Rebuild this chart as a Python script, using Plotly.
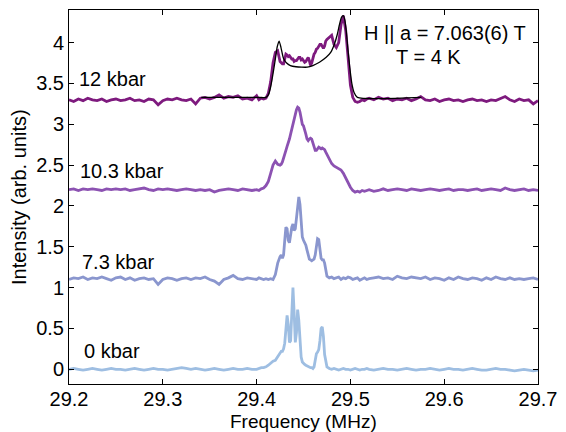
import plotly.graph_objects as go

# ---------------- frequency grid (MHz) ----------------
freq_a = [29.200, 29.205, 29.210, 29.215, 29.220, 29.225, 29.230, 29.235, 29.240, 29.245,
          29.250, 29.255, 29.260, 29.265, 29.270, 29.275, 29.280, 29.285, 29.290, 29.295,
          29.300, 29.305, 29.310, 29.315, 29.320, 29.325, 29.330, 29.335, 29.340, 29.345,
          29.350, 29.355, 29.360, 29.365, 29.370, 29.375, 29.380, 29.385, 29.390, 29.395]
freq_b = [29.4000, 29.4025, 29.4050, 29.4075, 29.4100, 29.4125, 29.4150, 29.4175, 29.4200, 29.4225]
freq_c = [29.42500, 29.42625, 29.42750, 29.42875, 29.43000, 29.43125, 29.43250, 29.43375, 29.43500, 29.43625,
          29.43750, 29.43875, 29.44000, 29.44125, 29.44250, 29.44375, 29.44500, 29.44625, 29.44750, 29.44875,
          29.45000, 29.45125, 29.45250, 29.45375, 29.45500, 29.45625, 29.45750, 29.45875, 29.46000, 29.46125,
          29.46250, 29.46375, 29.46500, 29.46625, 29.46750, 29.46875, 29.47000, 29.47125, 29.47250, 29.47375]
freq_d = [29.4750, 29.4775, 29.4800, 29.4825, 29.4850, 29.4875, 29.4900, 29.4925, 29.4950, 29.4975,
          29.5000, 29.5025, 29.5050, 29.5075, 29.5100, 29.5125, 29.5150, 29.5175]
freq_e = [29.520, 29.525, 29.530, 29.535, 29.540, 29.545, 29.550, 29.555, 29.560, 29.565,
          29.570, 29.575, 29.580, 29.585, 29.590, 29.595, 29.600, 29.605, 29.610, 29.615,
          29.620, 29.625, 29.630, 29.635, 29.640, 29.645, 29.650, 29.655, 29.660, 29.665,
          29.670, 29.675, 29.680, 29.685, 29.690, 29.695, 29.700]
freq = freq_a + freq_b + freq_c + freq_d + freq_e

# ---------------- spectra (relative to their baseline) ----------------
labels = ["0 kbar", "7.3 kbar", "10.3 kbar", "12 kbar"]
offsets = [0.0, 1.1, 2.2, 3.3]
colors = ["#9ebee2", "#8a96ce", "#8c52b2", "#7e1a7e"]

spec_0 = (
    [0.00, 0.01, 0.00, -0.01, 0.00, 0.01, 0.00, -0.01, 0.00, 0.01,
     0.00, 0.00, -0.01, 0.00, 0.01, 0.00, -0.01, 0.00, 0.01, 0.00,
     0.00, -0.01, 0.00, 0.01, 0.02, 0.01, 0.00, 0.01, 0.00, -0.01,
     0.00, 0.01, 0.00, -0.01, 0.00, 0.01, 0.00, 0.00, 0.01, 0.00]
    + [0.00, 0.01, 0.02, 0.02, 0.03, 0.05, 0.08, 0.10, 0.11, 0.15]
    + [0.20, 0.22, 0.22, 0.25, 0.32, 0.50, 0.66, 0.55, 0.33, 0.35,
       0.70, 1.00, 0.70, 0.33, 0.45, 0.73, 0.60, 0.30, 0.15, 0.09,
       0.07, 0.06, 0.05, 0.04, 0.03, 0.03, 0.02, 0.02, 0.01, 0.03,
       0.10, 0.19, 0.21, 0.24, 0.35, 0.50, 0.52, 0.40, 0.18, 0.07]
    + [0.03, 0.01, 0.00, 0.01, 0.00, -0.01, 0.00, 0.01, 0.00, 0.00,
       -0.01, 0.00, 0.01, 0.00, -0.01, 0.00, 0.00, 0.01]
    + [0.00, -0.01, 0.00, 0.01, 0.00, 0.00, -0.01, 0.00, 0.01, 0.00,
       -0.01, 0.00, 0.00, 0.01, 0.00, -0.01, 0.00, 0.01, 0.00, 0.00,
       -0.01, 0.00, 0.01, 0.00, -0.01, -0.01, 0.00, 0.01, 0.00, 0.00,
       -0.01, -0.02, -0.01, 0.00, -0.01, -0.02, -0.01]
)

spec_7 = (
    [0.00, 0.02, 0.01, 0.03, 0.00, 0.02, 0.01, 0.03, 0.01, -0.01,
     0.02, 0.03, 0.00, 0.02, -0.01, 0.01, 0.02, 0.00, 0.01, -0.06,
     0.00, 0.02, 0.01, -0.01, 0.01, 0.02, 0.00, 0.02, 0.01, 0.03,
     0.00, -0.02, -0.06, 0.00, 0.02, 0.05, 0.01, 0.00, 0.02, 0.01]
    + [0.00, 0.02, 0.01, 0.00, 0.01, 0.00, 0.01, 0.00, 0.06, 0.20]
    + [0.28, 0.30, 0.26, 0.30, 0.48, 0.64, 0.62, 0.48, 0.45, 0.58,
       0.64, 0.68, 0.60, 0.62, 0.78, 0.95, 1.01, 0.92, 0.70, 0.52,
       0.48, 0.45, 0.42, 0.36, 0.30, 0.25, 0.24, 0.23, 0.24, 0.25,
       0.30, 0.42, 0.50, 0.49, 0.38, 0.26, 0.24, 0.24, 0.20, 0.12]
    + [0.04, 0.02, 0.03, 0.01, 0.02, 0.03, 0.00, 0.02, 0.01, 0.03,
       0.02, 0.00, 0.01, 0.02, -0.01, 0.01, 0.02, 0.00]
    + [0.01, 0.02, 0.03, 0.01, 0.02, 0.00, 0.04, 0.02, 0.01, 0.03,
       0.02, 0.01, 0.03, 0.00, 0.02, 0.01, -0.01, 0.02, 0.00, 0.03,
       0.01, 0.00, 0.02, 0.01, -0.01, 0.02, 0.00, 0.03, 0.01, 0.00,
       0.02, 0.00, 0.01, 0.00, 0.01, 0.02, 0.00]
)

spec_10 = (
    [0.00, 0.01, -0.01, 0.01, 0.00, 0.01, 0.00, -0.01, 0.01, 0.00,
     0.01, 0.00, 0.01, -0.01, 0.00, 0.01, 0.02, 0.00, -0.01, 0.01,
     0.00, 0.01, 0.00, -0.01, 0.00, 0.01, 0.00, -0.01, 0.00, -0.01,
     0.00, -0.03, -0.01, 0.00, 0.01, 0.00, -0.01, 0.01, 0.00, -0.01]
    + [0.00, -0.01, 0.01, 0.02, 0.05, 0.10, 0.20, 0.30, 0.35, 0.31]
    + [0.30, 0.31, 0.34, 0.38, 0.43, 0.48, 0.53, 0.57, 0.62, 0.68,
       0.74, 0.79, 0.86, 0.93, 0.98, 1.01, 1.00, 0.95, 0.85, 0.80,
       0.78, 0.74, 0.68, 0.62, 0.60, 0.62, 0.63, 0.62, 0.58, 0.52,
       0.48, 0.48, 0.51, 0.52, 0.51, 0.50, 0.51, 0.50, 0.49, 0.46]
    + [0.43, 0.39, 0.32, 0.29, 0.27, 0.26, 0.24, 0.20, 0.14, 0.08,
       0.03, -0.01, -0.03, -0.02, -0.03, -0.01, -0.02, -0.01]
    + [0.00, -0.02, -0.01, 0.01, -0.01, 0.00, 0.01, 0.00, -0.01, 0.01,
       0.00, -0.01, 0.00, 0.01, 0.00, -0.01, 0.00, 0.01, -0.01, 0.00,
       0.00, -0.01, 0.00, 0.01, -0.01, 0.00, 0.01, 0.00, -0.01, 0.02,
       0.00, -0.01, 0.00, 0.01, -0.01, 0.00, -0.01]
)

spec_12 = (
    [0.00, -0.02, 0.01, -0.01, 0.02, 0.00, -0.01, 0.01, -0.02, 0.00,
     0.01, -0.01, 0.00, 0.02, -0.01, 0.00, -0.02, 0.01, 0.00, -0.06,
     -0.01, 0.01, 0.00, 0.02, 0.00, -0.01, 0.01, -0.05, 0.02, 0.03,
     0.01, 0.03, 0.06, 0.02, 0.04, 0.03, 0.05, 0.01, 0.02, 0.00]
    + [0.05, 0.00, 0.02, 0.01, 0.02, 0.08, 0.22, 0.45, 0.58, 0.60]
    + [0.47, 0.45, 0.44, 0.44, 0.50, 0.56, 0.55, 0.53, 0.54, 0.52,
       0.50, 0.50, 0.47, 0.48, 0.48, 0.50, 0.52, 0.52, 0.49, 0.50,
       0.48, 0.46, 0.47, 0.50, 0.52, 0.48, 0.42, 0.45, 0.53, 0.56,
       0.58, 0.62, 0.63, 0.66, 0.68, 0.68, 0.65, 0.63, 0.66, 0.72]
    + [0.74, 0.77, 0.79, 0.68, 0.64, 0.70, 0.92, 1.03, 0.85, 0.52,
       0.18, 0.03, -0.02, -0.03, -0.02, 0.00, -0.01, 0.01]
    + [0.02, 0.00, 0.03, 0.01, 0.02, -0.01, 0.01, 0.00, 0.02, -0.01,
       0.01, 0.04, 0.00, -0.01, 0.01, -0.02, 0.00, 0.01, -0.01, 0.00,
       -0.02, 0.00, 0.01, -0.01, 0.00, -0.02, 0.00, -0.01, 0.02, 0.04,
       0.00, -0.02, 0.01, -0.01, 0.00, -0.05, -0.01]
)

spectra = [spec_0, spec_7, spec_10, spec_12]

# ---------------- fit to the 12 kbar spectrum ----------------
fit_freq = [29.341, 29.400, 29.410, 29.4125, 29.415, 29.4175, 29.420, 29.422, 29.424, 29.426,
            29.4286, 29.432, 29.436, 29.442, 29.448, 29.454, 29.460, 29.467, 29.4742, 29.479,
            29.4829, 29.486, 29.4881, 29.4905, 29.4924, 29.494, 29.4955, 29.4975, 29.4993, 29.5015,
            29.5039, 29.5074, 29.5757]
fit_int = [3.33, 3.33, 3.33, 3.36, 3.46, 3.62, 3.80, 3.95, 4.02, 3.94,
           3.81, 3.75, 3.72, 3.705, 3.70, 3.70, 3.72, 3.76, 3.82, 3.88,
           3.98, 4.10, 4.21, 4.31, 4.33, 4.28, 4.15, 3.90, 3.70, 3.50,
           3.39, 3.33, 3.33]

x_ticks = [29.2, 29.3, 29.4, 29.5, 29.6, 29.7]
x_tick_labels = ["29.2", "29.3", "29.4", "29.5", "29.6", "29.7"]
y_ticks = [0, 0.5, 1, 1.5, 2, 2.5, 3, 3.5, 4]
y_tick_labels = ["0", "0.5", "1", "1.5", "2", "2.5", "3", "3.5", "4"]

FONT = "Liberation Sans, Arial, Helvetica, sans-serif"
FS = 20

fig = go.Figure()
for lab, off, col, spec in zip(labels, offsets, colors, spectra):
    fig.add_trace(go.Scatter(
        x=freq, y=[v + off for v in spec], mode="lines", name=lab,
        line=dict(color=col, width=2.8), showlegend=False, hoverinfo="skip"))

fig.add_trace(go.Scatter(x=fit_freq, y=fit_int, mode="lines", name="fit",
                         line=dict(color="black", width=1.3, shape="spline", smoothing=0.6),
                         showlegend=False, hoverinfo="skip"))

# pressure labels
label_pos = [(29.2137, 0.22), (29.2116, 1.31), (29.2095, 2.43), (29.2084, 3.56)]
annotations = []
for lab, (lx, ly) in zip(labels, label_pos):
    annotations.append(dict(x=lx, y=ly, xref="x", yref="y", text=lab, showarrow=False,
                            xanchor="left", yanchor="middle",
                            font=dict(family=FONT, size=FS, color="black")))
annotations.append(dict(x=29.6013, y=4.12, xref="x", yref="y", text="H || a = 7.063(6) T",
                        showarrow=False, xanchor="center", yanchor="middle",
                        font=dict(family=FONT, size=FS, color="black")))
annotations.append(dict(x=29.5834, y=3.82, xref="x", yref="y", text="T = 4 K",
                        showarrow=False, xanchor="center", yanchor="middle",
                        font=dict(family=FONT, size=FS, color="black")))
# axis titles
annotations.append(dict(x=0.5, y=0, xref="paper", yref="paper", text="Frequency (MHz)",
                        showarrow=False, xanchor="center", yanchor="middle", yshift=-37,
                        font=dict(family=FONT, size=19, color="black")))
annotations.append(dict(x=0, y=0.5, xref="paper", yref="paper", text="Intensity (arb. units)",
                        showarrow=False, xanchor="center", yanchor="middle", xshift=-50,
                        textangle=-90, font=dict(family=FONT, size=FS, color="black")))

fig.update_layout(
    width=566, height=432,
    margin=dict(l=69, r=21, t=9, b=48),
    paper_bgcolor="white", plot_bgcolor="white",
    annotations=annotations,
    showlegend=False,
)
fig.update_xaxes(range=[29.2, 29.7], tickvals=x_ticks, ticktext=x_tick_labels,
                 ticks="inside", ticklen=5, tickcolor="black", showline=True,
                 linecolor="black", linewidth=1, mirror="ticks", showgrid=False,
                 zeroline=False, ticklabelstandoff=-3,
                 tickfont=dict(family=FONT, size=FS, color="black"))
fig.update_yaxes(range=[-0.18, 4.4], tickvals=y_ticks, ticktext=y_tick_labels,
                 ticks="inside", ticklen=5, tickcolor="black", showline=True,
                 linecolor="black", linewidth=1, mirror="ticks", showgrid=False,
                 zeroline=False, tickfont=dict(family=FONT, size=FS, color="black"))

fig.write_html("out.html")
